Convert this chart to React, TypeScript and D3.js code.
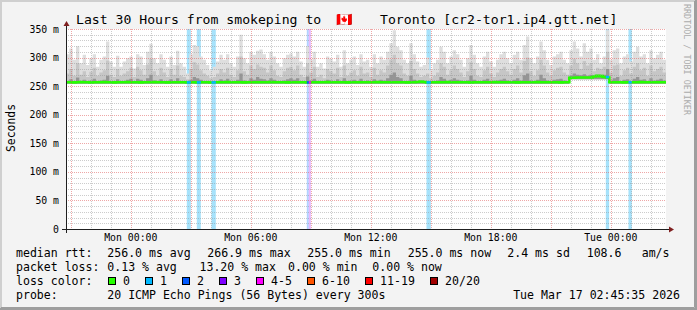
import React from "react";
import * as d3 from "d3";

const W = 697;
const H = 310;
const START = new Date(2026, 2, 15, 20, 45, 35);
const END = new Date(2026, 2, 17, 2, 45, 35);
const STEP_MIN = 10;

// smoke envelope per 10-minute column (ms)
const smokeMax = [
  306,316,296,320,290,305,287,299,306,284,
  296,302,328,293,284,303,284,293,299,302,
  281,306,302,287,310,324,299,290,306,296,
  284,302,287,312,290,284,272,306,322,320,
  302,296,287,278,284,293,305,296,306,290,
  284,302,340,299,290,310,305,312,314,306,
  296,310,302,290,284,299,305,307,302,310,
  293,284,320,296,310,284,290,281,302,298,
  293,305,284,313,290,296,302,287,306,293,
  296,284,306,290,302,296,310,325,348,319,
  313,296,290,325,306,293,284,287,300,278,
  290,296,319,310,290,302,313,306,296,284,
  299,322,305,290,284,302,310,293,284,296,
  306,310,299,290,305,310,296,322,337,299,
  290,302,328,313,296,287,302,306,310,296,
  290,313,328,316,302,325,310,316,296,306,
  290,302,348,296,313,316,290,302,306,293,
  310,319,302,306,290,313,299,305,310,296,
];
const smokeMid = [
  272,280,268,290,270,276,266,275,282,268,
  274,278,295,270,266,280,268,272,276,282,
  266,284,278,270,288,298,276,268,282,274,
  266,280,270,286,268,266,262,280,292,288,
  278,272,268,264,266,272,280,274,282,270,
  266,278,302,276,270,286,280,288,284,282,
  274,286,278,268,266,276,282,284,278,286,
  270,266,290,274,284,266,270,264,280,276,
  272,282,266,286,268,274,278,268,284,272,
  274,266,282,270,278,274,286,296,305,290,
  286,272,268,294,280,272,266,268,272,264,
  268,274,290,284,270,278,286,280,274,266,
  276,292,280,268,266,278,284,272,266,274,
  280,284,276,270,280,286,274,294,300,276,
  268,278,296,286,274,268,278,282,284,274,
  270,286,298,290,280,294,286,290,276,282,
  280,284,310,274,286,288,268,278,282,272,
  284,290,278,282,268,286,276,280,284,274,
];
const smokeDark = [
  259,262,258,265,259,261,258,260,263,258,
  260,261,268,259,258,262,258,259,261,263,
  258,263,261,259,264,270,260,258,262,259,
  258,262,259,264,258,258,257,261,266,264,
  261,259,258,257,258,259,262,260,263,259,
  258,261,272,260,259,264,261,266,263,262,
  260,264,261,258,258,260,262,264,261,264,
  259,258,267,260,263,258,259,257,261,260,
  259,262,258,264,258,260,261,258,263,259,
  260,258,262,259,261,260,264,270,274,266,
  264,259,258,268,261,259,258,258,259,257,
  258,260,266,263,259,261,264,261,260,258,
  260,268,261,258,258,261,263,259,258,260,
  261,263,260,259,261,264,260,269,272,260,
  258,261,270,264,260,258,261,262,263,260,
  258,268,272,270,269,271,268,270,268,270,
  270,270,280,260,264,266,258,261,262,259,
  263,266,261,262,258,264,260,261,263,260,
];
const smokeMin = [
  254,254,254,254,254,254,254,254,254,254,
  254,254,254,254,254,254,254,254,254,254,
  254,254,254,254,254,254,254,254,254,254,
  254,254,254,254,254,254,254,254,254,254,
  254,254,254,254,254,254,254,254,254,254,
  254,254,254,254,254,254,254,254,254,254,
  254,254,254,254,254,254,254,254,254,254,
  254,254,254,254,254,254,254,254,254,254,
  254,254,254,254,254,254,254,254,254,254,
  254,254,254,254,254,254,254,254,254,254,
  254,254,254,254,254,254,254,254,254,254,
  254,254,254,254,254,254,254,254,254,254,
  254,254,254,254,254,254,254,254,254,254,
  254,254,254,254,254,254,254,254,254,254,
  254,254,254,254,254,254,254,254,254,254,
  254,262,262,262,262,262,262,262,262,262,
  262,262,262,254,254,254,254,254,254,254,
  254,254,254,254,254,254,254,254,254,254,
];
const median = [
  256.8,256.8,256.6,256.8,257.0,256.8,256.8,256.6,256.8,256.8,
  256.8,257.0,256.8,256.8,256.6,256.8,256.8,256.8,257.0,256.8,
  256.8,256.8,256.6,256.8,256.8,256.8,257.0,256.8,256.8,256.8,
  256.6,256.8,256.8,256.8,256.8,256.8,256.5,256.8,256.8,256.5,
  256.8,256.8,256.8,256.5,256.8,256.8,256.8,256.8,257.0,256.8,
  256.8,256.8,256.8,256.6,256.8,256.8,256.8,256.8,256.8,256.8,
  256.8,257.0,256.8,256.8,256.8,256.8,256.6,256.8,256.8,256.8,
  256.8,256.8,256.5,256.8,256.8,256.8,256.8,256.8,257.0,256.8,
  256.8,256.8,256.8,256.8,256.6,256.8,256.8,256.8,256.8,256.8,
  256.8,256.8,256.8,257.0,256.8,256.8,256.8,256.8,256.8,256.8,
  256.8,256.8,256.6,256.8,256.8,257.2,258.0,257.2,256.5,256.8,
  256.8,256.8,256.8,256.8,257.0,256.8,256.8,256.8,256.8,256.8,
  256.8,256.6,256.8,256.8,256.8,256.8,256.8,256.8,257.0,256.8,
  256.8,256.8,256.8,256.8,256.8,256.6,256.8,256.8,256.8,256.8,
  256.8,257.0,256.8,256.8,256.8,256.8,256.8,256.8,256.6,256.8,
  256.8,264.8,264.8,265.0,265.0,265.2,265.0,265.0,267.0,268.0,
  267.5,266.0,265.0,256.8,256.8,256.8,256.8,256.6,256.8,256.8,
  256.8,256.8,257.0,256.8,256.8,256.8,256.8,256.8,256.8,256.8,
];

// loss events: [start, end, loss colour index]
const lossEvents: [Date, Date, number][] = [
  [new Date(2026, 2, 16, 2, 48), new Date(2026, 2, 16, 3, 0), 1],
  [new Date(2026, 2, 16, 3, 18), new Date(2026, 2, 16, 3, 30), 1],
  [new Date(2026, 2, 16, 4, 2), new Date(2026, 2, 16, 4, 15), 1],
  [new Date(2026, 2, 16, 8, 48), new Date(2026, 2, 16, 8, 54), 2],
  [new Date(2026, 2, 16, 8, 54), new Date(2026, 2, 16, 9, 0), 4],
  [new Date(2026, 2, 16, 14, 47), new Date(2026, 2, 16, 15, 0), 1],
  [new Date(2026, 2, 16, 23, 45), new Date(2026, 2, 16, 23, 55), 1],
  [new Date(2026, 2, 17, 0, 53), new Date(2026, 2, 17, 1, 3), 1],
];

const lossColors = ["#26ff00", "#00b8ff", "#0059ff", "#7e00ff", "#ff00ff", "#ff5500", "#ff0000", "#a10000"];
const lossBg = ["#ffffff", "#a6e2fb", "#b2d2ff", "#cdb0ff", "#e8b8ff", "#ffc6ae", "#ffb0b0", "#e0b0b0"];
const lossLabels = ["0", "1", "2", "3", "4-5", "6-10", "11-19", "20/20"];
const lossBoxX = [108.5, 145.5, 182.5, 219.5, 256.5, 307.5, 365.5, 430.5];

const yTicks = [0, 50, 100, 150, 200, 250, 300, 350];
const yMinor = d3.range(0, 351, 10);

const legendRtt: [string, number][] = [
  ["median rtt:", 16],
  ["256.0 ms avg", 107.3],
  ["266.9 ms max", 207.3],
  ["255.0 ms min", 307.3],
  ["255.0 ms now", 407.7],
  ["2.4 ms sd", 507.3],
  ["108.6", 586.7],
  ["am/s", 641.7],
];
const legendLoss: [string, number][] = [
  ["packet loss:", 16],
  ["0.13 % avg", 107.3],
  ["13.20 % max", 199.5],
  ["0.00 % min", 288],
  ["0.00 % now", 372.3],
];

const MONO = "'DejaVu Sans Mono', monospace";

export default function App() {
  const x = d3.scaleTime().domain([START, END]).range([66, 666]);
  const y = d3.scaleLinear().domain([0, 350]).range([229, 29]);

  const n = smokeMax.length;
  const colTime = (i: number) => new Date(START.getTime() + i * STEP_MIN * 60000);
  const idx = d3.range(n + 1);
  const g = (arr: number[], i: number) => arr[Math.min(i, arr.length - 1)];
  const areaFor = (top: number[]) =>
    d3
      .area<number>()
      .curve(d3.curveStepAfter)
      .x((i) => x(colTime(i)))
      .y0((i) => y(g(smokeMin, i)))
      .y1((i) => y(g(top, i)))(idx) || "";
  const medLine =
    d3
      .line<number>()
      .curve(d3.curveStepAfter)
      .x((i) => x(colTime(i)))
      .y((i) => y(g(median, i)))(idx) || "";

  const medAt = (t: Date) => {
    const i = Math.floor((t.getTime() - START.getTime()) / (STEP_MIN * 60000));
    return g(median, Math.max(0, i));
  };

  const hours = d3.timeHour.range(START, END);
  const major = hours.filter((h) => h.getHours() % 3 === 0);
  const minor = hours.filter((h) => h.getHours() % 3 !== 0);
  const labels = hours.filter((h) => h.getHours() % 6 === 0);
  const fmt = d3.timeFormat("%a %H:%M");

  const px = (v: number) => Math.round(v) + 0.5;
  const gridColor = "rgba(143,143,143,0.45)";
  const mgridColor = "rgba(222,80,80,0.5)";

  return (
    <svg
      width={W}
      height={H}
      style={{ position: "absolute", left: 0, top: 0 }}
      xmlns="http://www.w3.org/2000/svg"
    >
      <rect x={0} y={0} width={W} height={H} fill="#f3f3f3" />
      {/* 3d border */}
      <path d={`M0,${H} V0 H${W}`} stroke="#cfcfcf" strokeWidth={4} fill="none" />
      <path d={`M0,${H - 1} H${W - 1} V0`} stroke="#9e9e9e" strokeWidth={2} fill="none" />
      <path d={`M1,${H - 2.5} H${W - 2.5} V1`} stroke="#9e9e9e" strokeWidth={1} fill="none" />

      {/* canvas */}
      <rect x={66} y={29} width={600} height={200} fill="#ffffff" />

      {/* loss backgrounds */}
      {lossEvents.map(([a, b, l], k) => (
        <rect key={`lb${k}`} x={x(a)} y={29} width={x(b) - x(a)} height={200} fill={lossBg[l]} />
      ))}

      {/* smoke */}
      <path d={areaFor(smokeMax)} fill="#dedede" />
      <path d={areaFor(smokeMid)} fill="#c6c6c6" />
      <path d={areaFor(smokeDark)} fill="#959595" />

      {/* median line */}
      <path d={medLine} fill="none" stroke={lossColors[0]} strokeWidth={2.6} />
      {lossEvents.map(([a, b, l], k) => (
        <line
          key={`lm${k}`}
          x1={x(a)}
          x2={x(b)}
          y1={y(medAt(a))}
          y2={y(medAt(a))}
          stroke={lossColors[l]}
          strokeWidth={2.6}
        />
      ))}

      {/* grid */}
      {yMinor
        .filter((v) => v % 50 !== 0)
        .map((v) => (
          <line key={`hy${v}`} x1={66} x2={666} y1={px(y(v))} y2={px(y(v))} stroke={gridColor} strokeDasharray="1,1" />
        ))}
      {yTicks
        .filter((v) => v > 0)
        .map((v) => (
          <line key={`my${v}`} x1={66} x2={666} y1={px(y(v))} y2={px(y(v))} stroke={mgridColor} strokeDasharray="1,1" />
        ))}
      {minor.map((h) => (
        <line key={`vx${+h}`} x1={px(x(h))} x2={px(x(h))} y1={29} y2={229} stroke={gridColor} strokeDasharray="1,1" />
      ))}
      {major.map((h) => (
        <line key={`mx${+h}`} x1={px(x(h))} x2={px(x(h))} y1={29} y2={229} stroke={mgridColor} strokeDasharray="1,1" />
      ))}

      {/* axes */}
      <line x1={62} x2={670} y1={229.5} y2={229.5} stroke="#1f1f1f" />
      <line x1={66.5} x2={66.5} y1={233} y2={25} stroke="#1f1f1f" />
      <path d="M674,229.5 L669,226.5 L669,232.5 Z" fill="#7f1f1f" />
      <path d="M66.5,21 L63.5,26 L69.5,26 Z" fill="#7f1f1f" />

      {/* y labels */}
      {yTicks.map((v) => (
        <text
          key={`yl${v}`}
          x={59}
          y={y(v) + 3.6}
          textAnchor="end"
          fontFamily={MONO}
          fontSize={9.8}
          fill="#000"
        >
          {v === 0 ? "0" : `${v} m`}
        </text>
      ))}
      {/* x labels */}
      {labels.map((h) => (
        <text
          key={`xl${+h}`}
          x={x(h)}
          y={240.5}
          textAnchor="middle"
          fontFamily={MONO}
          fontSize={9.85}
          fill="#000"
        >
          {fmt(h)}
        </text>
      ))}

      <text
        transform="translate(15,128) rotate(-90)"
        textAnchor="middle"
        fontFamily={MONO}
        fontSize={11.4}
        fill="#000"
      >
        Seconds
      </text>

      {/* title */}
      <text x={76} y={23.5} fontFamily={MONO} fontSize={13.15} fill="#000">
        Last 30 Hours from smokeping to
      </text>
      <text x={336} y={23.5} fontFamily={MONO} fontSize={13.15} fill="#000">
        🇨🇦
      </text>
      <text x={380} y={23.5} fontFamily={MONO} fontSize={13.15} fill="#000">
        Toronto [cr2-tor1.ip4.gtt.net]
      </text>

      {/* watermark */}
      <text
        transform="translate(683.5,4) rotate(90)"
        fontFamily={MONO}
        fontSize={8.4}
        fill="#ababab"
      >
        RRDTOOL / TOBI OETIKER
      </text>

      {/* legend */}
      {legendRtt.map(([s, lx], k) => (
        <text key={`lr${k}`} x={lx} y={257.3} fontFamily={MONO} fontSize={11.55} fill="#000" style={{ whiteSpace: "pre" }}>
          {s}
        </text>
      ))}
      {legendLoss.map(([s, lx], k) => (
        <text key={`ll${k}`} x={lx} y={271.2} fontFamily={MONO} fontSize={11.55} fill="#000" style={{ whiteSpace: "pre" }}>
          {s}
        </text>
      ))}
      <text x={16} y={285.1} fontFamily={MONO} fontSize={11.55} fill="#000">
        loss color:
      </text>
      {lossLabels.map((s, k) => (
        <g key={`lc${k}`}>
          <rect x={lossBoxX[k]} y={277.5} width={7} height={7} fill={lossColors[k]} stroke="#000" strokeWidth={1} />
          <text x={lossBoxX[k] + 14.6} y={285.1} fontFamily={MONO} fontSize={11.55} fill="#000">
            {s}
          </text>
        </g>
      ))}
      <text x={16} y={299} fontFamily={MONO} fontSize={11.55} fill="#000">
        probe:
      </text>
      <text x={107.3} y={299} fontFamily={MONO} fontSize={11.55} fill="#000">
        20 ICMP Echo Pings (56 Bytes) every 300s
      </text>
      <text x={680} y={299} textAnchor="end" fontFamily={MONO} fontSize={11.55} fill="#000">
        Tue Mar 17 02:45:35 2026
      </text>
    </svg>
  );
}
